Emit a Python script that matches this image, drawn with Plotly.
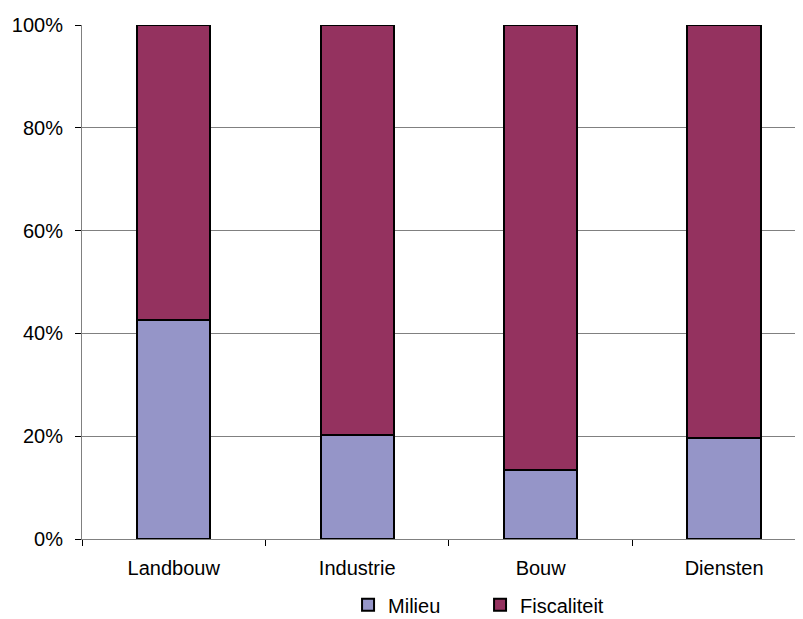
import plotly.graph_objects as go

categories = ["Landbouw", "Industrie", "Bouw", "Diensten"]
milieu = [42.7, 20.2, 13.5, 19.7]
fiscaliteit = [100 - v for v in milieu]
y_ticks = [0, 20, 40, 60, 80, 100]
y_tick_labels = ["0%", "20%", "40%", "60%", "80%", "100%"]

fig = go.Figure()
fig.add_trace(go.Bar(name="Milieu", x=categories, y=milieu, width=0.4,
                     marker=dict(color="#9595C8", line=dict(color="#000000", width=2))))
fig.add_trace(go.Bar(name="Fiscaliteit", x=categories, y=fiscaliteit, width=0.4,
                     marker=dict(color="#94325F", line=dict(color="#000000", width=2))))

fig.update_layout(
    barmode="stack",
    width=795, height=619,
    margin=dict(l=74, r=0, t=17, b=88, autoexpand=False),
    plot_bgcolor="white", paper_bgcolor="white",
    font=dict(family="Liberation Sans, Arial, sans-serif", size=20, color="#000000"),
    showlegend=True,
    legend=dict(orientation="h", x=0.369, xanchor="left", y=-0.128, yanchor="middle",
                font=dict(size=20), entrywidth=87, traceorder="normal"),
)
fig.update_xaxes(type="category", range=[-0.5, 3.43], tickson="boundaries",
                 ticks="outside", ticklen=6, tickcolor="#000000",
                 ticklabelstandoff=11,
                 showline=True, linecolor="#808080", linewidth=1, showgrid=False)
fig.update_yaxes(range=[0, 100], tickvals=y_ticks, ticktext=y_tick_labels,
                 ticks="outside", ticklen=6, tickcolor="#000000",
                 ticklabelstandoff=8,
                 showline=True, linecolor="#808080", linewidth=1,
                 showgrid=True, gridcolor="#808080", gridwidth=1, zeroline=False)

fig.write_html("out.html")
